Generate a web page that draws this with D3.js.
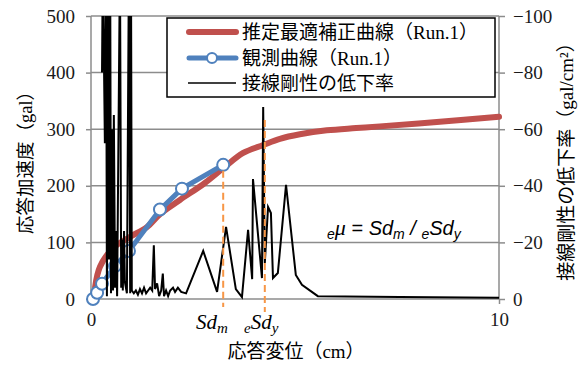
<!DOCTYPE html>
<html><head><meta charset="utf-8">
<script src="https://cdn.jsdelivr.net/npm/d3@7"></script>
<style>
html,body{margin:0;padding:0;background:#fff;}
svg{display:block;}
</style></head>
<body>
<svg id="chart" width="584" height="365"></svg>
<script>
// ---- data ----
const yTicks = [0, 100, 200, 300, 400, 500];
const y2Ticks = [0, -20, -40, -60, -80, -100];
const xTicks = [0, 10];

// 推定最適補正曲線 (Run.1)
const fitX = [0.1, 0.22, 0.54, 0.96, 1.37, 1.69, 2.18, 2.79, 3.24, 3.73, 4.22, 4.63, 5.12, 5.78, 6.5, 7.08, 8.55, 10.0];
const fitY = [21, 57, 90, 110, 127, 150, 175, 205, 231, 258, 272, 283, 291, 298, 302, 305, 313, 322];

// 観測曲線 (Run.1)
const obsX = [0.05, 0.15, 0.27, 0.59, 0.93, 1.69, 2.23, 3.24];
const obsY = [0, 11, 27, 58, 85, 158, 195, 237];

// 接線剛性の低下率 (secondary axis)
const rateX = [0.27,0.29,0.34,0.37,0.39,0.42,0.44,0.47,0.49,0.51,0.54,0.56,0.59,0.61,0.64,0.71,0.74,0.76,0.78,0.81,0.83,0.88,0.93,0.96,0.98,
  1.00,1.05,1.10,1.15,1.20,1.25,1.30,1.35,1.40,1.45,1.50,1.54,1.57,1.62,1.67,1.72,1.76,1.79,1.84,1.89,1.94,2.01,2.06,2.13,2.21,2.33,
  2.75,3.09,3.31,3.55,3.70,3.85,3.95,3.97,4.19,4.22,4.26,4.34,4.41,4.46,4.58,4.78,5.02,5.17,5.56,7.57,10.0];
const rateY = [-80,-120,-55,-120,-1,-120,-14,-120,-2,-60,-3,-65,-4,-24,-1,-120,-4,-21,-3,-24,-6,-2,-120,-2,-120,
  -3,-2,-3,-1.5,-3.5,-2,-4,-2,-3,-4,-3,-19,-3.5,-5.5,-1,-3,-9,-1,-3,-1,-3,-4,-2.5,-4,-2.5,-2,
  -17,-2.5,-25.5,-3.5,-0.7,-24.4,-7,-42.4,-7.4,-67.8,-12.7,-32.5,-30.4,-7.4,-9.2,-40.3,-8.5,-5,-1,-0.7,-0.4];

const Sdm = 3.24, eSdy = 4.26;

const legendLabels = ["推定最適補正曲線", "観測曲線", "接線剛性の低下率"];

// ---- layout ----
const svg = d3.select("#chart");
const L = 91, R = 499, T = 16, B = 299;
const x = d3.scaleLinear([0, 10], [L, R]);
const y = d3.scaleLinear([0, 500], [B, T]);
const y2 = d3.scaleLinear([0, -100], [B, T]);
const grid = "#8c8c8c";
const serif = "'Liberation Serif', 'Times New Roman', serif";
const jp = "'Noto Sans CJK JP', sans-serif";
const red = "#C0504D", blue = "#4F81BD", orange = "#F79646";

// gridlines
svg.append("g").selectAll("line").data(yTicks.filter(d => d > 0)).join("line")
  .attr("x1", L).attr("x2", R).attr("y1", d => y(d)).attr("y2", d => y(d))
  .attr("stroke", grid).attr("stroke-width", 1.5);

// left axis
const gl = svg.append("g").attr("transform", `translate(${L},0)`)
  .call(d3.axisLeft(y).tickValues(yTicks).tickSize(5).tickPadding(11).tickFormat(d3.format("d")));
// right axis
const gr = svg.append("g").attr("transform", `translate(${R},0)`)
  .call(d3.axisRight(y2).tickValues(y2Ticks).tickSize(6).tickPadding(8).tickFormat(d3.format("d")));
// bottom axis
const gb = svg.append("g").attr("transform", `translate(0,${B})`)
  .call(d3.axisBottom(x).tickValues(xTicks).tickSize(5).tickPadding(9).tickFormat(d3.format("d")));
[gl, gr, gb].forEach(g => {
  g.select(".domain").attr("stroke", grid).attr("stroke-width", 1.5);
  g.selectAll(".tick line").attr("stroke", grid).attr("stroke-width", 1.5);
  g.selectAll(".tick text").attr("font-family", serif).attr("font-size", 19).attr("fill", "#1a1a1a");
});
gb.select(".domain").attr("d", `M${L},0H${R}`);
gl.select(".domain").attr("d", `M0,${T}V${B}`);
gr.select(".domain").attr("d", `M0,${T}V${B}`);

// clip
svg.append("clipPath").attr("id", "plot").append("rect")
  .attr("x", L).attr("y", T).attr("width", R - L).attr("height", B - T + 2);

// fitted curve
svg.append("path").datum(d3.zip(fitX, fitY))
  .attr("d", d3.line().x(d => x(d[0])).y(d => y(d[1])).curve(d3.curveCatmullRom))
  .attr("fill", "none").attr("stroke", red).attr("stroke-width", 6)
  .attr("stroke-linecap", "round");

// observed curve
const obs = d3.zip(obsX, obsY);
svg.append("path").datum(obs)
  .attr("d", d3.line().x(d => x(d[0])).y(d => y(d[1])))
  .attr("fill", "none").attr("stroke", blue).attr("stroke-width", 5);
svg.append("g").selectAll("circle").data(obs).join("circle")
  .attr("cx", d => x(d[0])).attr("cy", d => y(d[1])).attr("r", 6)
  .attr("fill", "#fff").attr("stroke", blue).attr("stroke-width", 2);

// rate line
svg.append("path").datum(d3.zip(rateX, rateY))
  .attr("clip-path", "url(#plot)")
  .attr("d", d3.line().x(d => x(d[0])).y(d => y2(d[1])))
  .attr("fill", "none").attr("stroke", "#000").attr("stroke-width", 2).attr("stroke-linejoin", "miter");

// dashed markers
svg.append("line").attr("x1", x(Sdm)).attr("x2", x(Sdm))
  .attr("y1", y(obsY[obsY.length - 1]) + 6).attr("y2", 307)
  .attr("stroke", orange).attr("stroke-width", 2).attr("stroke-dasharray", "7,4");
svg.append("line").attr("x1", x(eSdy)).attr("x2", x(eSdy))
  .attr("y1", 120).attr("y2", 312)
  .attr("stroke", orange).attr("stroke-width", 2).attr("stroke-dasharray", "7,4");

// Sd labels
const lab1 = svg.append("text").attr("x", 196).attr("y", 329)
  .attr("font-family", serif).attr("font-style", "italic").attr("font-size", 21).attr("fill", "#000");
lab1.append("tspan").text("Sd");
lab1.append("tspan").attr("dy", 4).attr("font-size", 15).text("m");
const lab2 = svg.append("text").attr("x", 244).attr("y", 329)
  .attr("font-family", serif).attr("font-style", "italic").attr("font-size", 21).attr("fill", "#000");
lab2.append("tspan").attr("dy", 4).attr("font-size", 15).text("e");
lab2.append("tspan").attr("dy", -4).text("Sd");
lab2.append("tspan").attr("dy", 4).attr("font-size", 15).text("y");

// formula
const f = svg.append("text").attr("x", 327).attr("y", 235)
  .attr("font-family", "'Liberation Sans', sans-serif").attr("font-style", "italic").attr("font-size", 20).attr("fill", "#000");
f.append("tspan").attr("dy", 4).attr("font-size", 14).text("e");
f.append("tspan").attr("dy", -4).attr("font-family", serif).attr("font-size", 22).text("μ");
f.append("tspan").attr("font-style", "normal").text(" = ");
f.append("tspan").text("Sd");
f.append("tspan").attr("dy", 4).attr("font-size", 14).text("m");
f.append("tspan").attr("dy", -4).text(" / ");
f.append("tspan").attr("dy", 4).attr("font-size", 14).text("e");
f.append("tspan").attr("dy", -4).text("Sd");
f.append("tspan").attr("dy", 4).attr("font-size", 14).text("y");

// axis titles
const xt = svg.append("text").attr("x", 296).attr("y", 358).attr("text-anchor", "middle")
  .attr("font-family", jp).attr("font-size", 19).attr("fill", "#000");
xt.append("tspan").text("応答変位（");
xt.append("tspan").attr("font-family", serif).text("cm");
xt.append("tspan").text("）");

const ylt = svg.append("text").attr("transform", "translate(32,158) rotate(-90)").attr("text-anchor", "middle")
  .attr("font-family", jp).attr("font-size", 18.5).attr("fill", "#000");
ylt.append("tspan").text("応答加速度（");
ylt.append("tspan").attr("font-family", serif).text("gal");
ylt.append("tspan").text("）");

const yrt = svg.append("text").attr("transform", "translate(573,157) rotate(-90)").attr("text-anchor", "middle")
  .attr("font-family", jp).attr("font-size", 19).attr("fill", "#000");
yrt.append("tspan").text("接線剛性の低下率（");
yrt.append("tspan").attr("font-family", serif).text("gal/cm²");
yrt.append("tspan").text("）");

// legend
const lg = svg.append("g");
lg.append("rect").attr("x", 167).attr("y", 18).attr("width", 328).attr("height", 79)
  .attr("fill", "#fff").attr("stroke", "#000").attr("stroke-width", 1.5);
const rows = [32, 58, 83];
lg.append("line").attr("x1", 189).attr("x2", 236).attr("y1", rows[0]).attr("y2", rows[0])
  .attr("stroke", red).attr("stroke-width", 6).attr("stroke-linecap", "round");
lg.append("line").attr("x1", 189).attr("x2", 236).attr("y1", rows[1]).attr("y2", rows[1])
  .attr("stroke", blue).attr("stroke-width", 5).attr("stroke-linecap", "round");
lg.append("circle").attr("cx", 212).attr("cy", rows[1]).attr("r", 5)
  .attr("fill", "#fff").attr("stroke", blue).attr("stroke-width", 2);
lg.append("line").attr("x1", 188).attr("x2", 236).attr("y1", rows[2]).attr("y2", rows[2])
  .attr("stroke", "#000").attr("stroke-width", 1.5);
legendLabels.forEach((t, i) => {
  const tx = lg.append("text").attr("x", 242).attr("y", rows[i] + 7)
    .attr("font-family", jp).attr("font-size", 19).attr("fill", "#000");
  tx.append("tspan").text(t);
  if (i < 2) {
    tx.append("tspan").text("（");
    tx.append("tspan").attr("font-family", serif).text("Run.1");
    tx.append("tspan").text("）");
  }
});
</script>
</body></html>
